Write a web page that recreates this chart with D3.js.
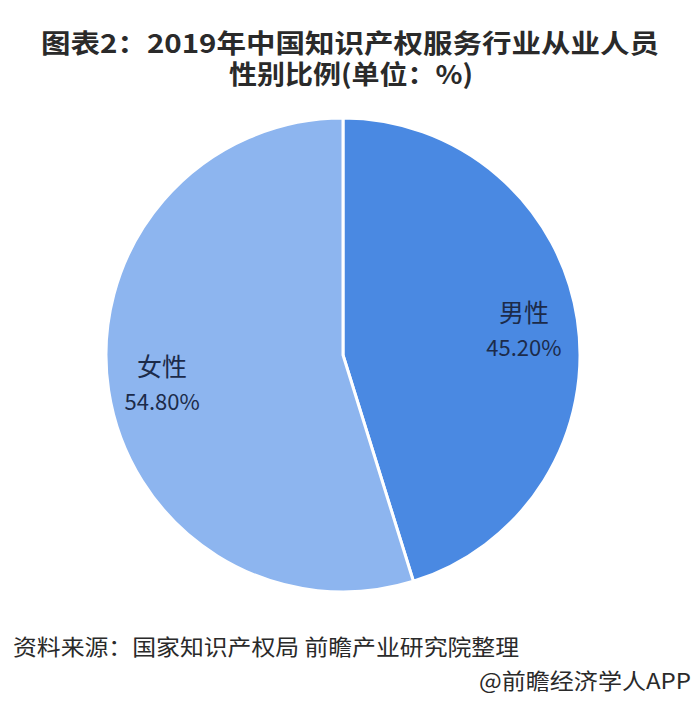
<!DOCTYPE html>
<html><head><meta charset="utf-8">
<script src="https://cdn.jsdelivr.net/npm/d3@7"></script>
<style>html,body{margin:0;padding:0;background:#fff;}svg{display:block;}</style>
</head><body>
<script>
const categories = ["男性", "女性"];
const values = [45.20, 54.80];
const valueLabels = ["45.20%", "54.80%"];
const colors = ["#4a89e2", "#8db5ef"];
const titleLines = ["图表2：2019年中国知识产权服务行业从业人员", "性别比例(单位：%)"];
const sourceText = "资料来源：国家知识产权局 前瞻产业研究院整理";
const creditText = "@前瞻经济学人APP";

const W = 700, H = 708;
const cx = 343, cy = 355, R = 237;
const font = "'Noto Sans CJK SC', 'Noto Sans', sans-serif";

const svg = d3.select("body").append("svg").attr("width", W).attr("height", H);
svg.append("rect").attr("width", W).attr("height", H).attr("fill", "#fff");

// Title
svg.append("text").attr("x", 350).attr("y", 53).attr("text-anchor", "middle")
  .attr("font-family", font).attr("font-weight", "bold").attr("font-size", 26)
  .attr("fill", "#2a2a2a").attr("textLength", 618).attr("lengthAdjust", "spacingAndGlyphs")
  .text(titleLines[0]);
svg.append("text").attr("x", 351).attr("y", 84).attr("text-anchor", "middle")
  .attr("font-family", font).attr("font-weight", "bold").attr("font-size", 26)
  .attr("fill", "#2a2a2a").attr("textLength", 244).attr("lengthAdjust", "spacingAndGlyphs")
  .text(titleLines[1]);

const data = categories.map((c, i) => ({name: c, value: values[i], label: valueLabels[i], color: colors[i]}));
const pie = d3.pie().value(d => d.value).sort(null);
const arc = d3.arc().innerRadius(0).outerRadius(R);
const labelArc = d3.arc().innerRadius(183).outerRadius(183);

const g = svg.append("g").attr("transform", `translate(${cx},${cy})`);
const arcs = pie(data);
g.selectAll("path").data(arcs).enter().append("path")
  .attr("d", arc).attr("fill", d => d.data.color)
  .attr("stroke", "#fff").attr("stroke-width", 3).attr("stroke-linejoin", "round");

const lab = g.selectAll("g.lab").data(arcs).enter().append("g").attr("class", "lab")
  .attr("transform", d => `translate(${labelArc.centroid(d)})`);
lab.append("text").attr("y", -6).attr("text-anchor", "middle")
  .attr("font-family", font).attr("font-size", 25).attr("fill", "#1c2b4a")
  .text(d => d.data.name);
lab.append("text").attr("y", 28).attr("text-anchor", "middle")
  .attr("font-family", font).attr("font-size", 22).attr("fill", "#1c2b4a")
  .text(d => d.data.label);

// Source
svg.append("text").attr("x", 13).attr("y", 655)
  .attr("font-family", font).attr("font-size", 22).attr("fill", "#2a2a2a")
  .attr("textLength", 506).attr("lengthAdjust", "spacingAndGlyphs")
  .text(sourceText);
svg.append("text").attr("x", 691).attr("y", 689).attr("text-anchor", "end")
  .attr("font-family", font).attr("font-size", 22).attr("fill", "#2a2a2a")
  .attr("textLength", 212).attr("lengthAdjust", "spacingAndGlyphs")
  .text(creditText);
</script>
</body></html>
